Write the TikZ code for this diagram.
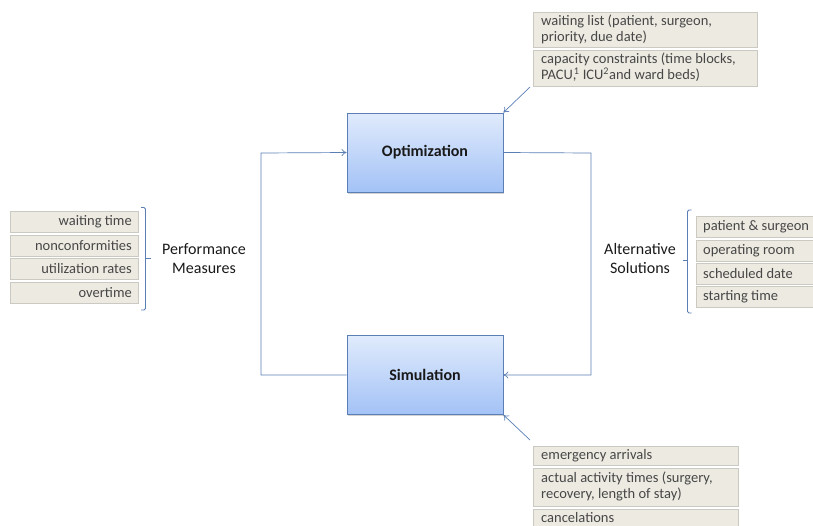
\documentclass[tikz,border=0pt]{standalone}
\usepackage{fontspec}
\setmainfont{Carlito}
\usetikzlibrary{arrows.meta,shadows}
\definecolor{edgeblue}{HTML}{5B7FB5}
\definecolor{boxtop}{HTML}{E0EBFC}
\definecolor{boxbot}{HTML}{A3C2F6}
\definecolor{itemfill}{HTML}{ECEAE1}
\definecolor{itemline}{HTML}{CBCAC2}
\definecolor{itemtext}{HTML}{474747}
\tikzset{
  mainbox/.style={draw=edgeblue, line width=0.8pt, top color=boxtop, bottom color=boxbot,
    minimum width=156pt, minimum height=79pt, font=\fontsize{16}{19}\selectfont\bfseries,
    text=black!90, drop shadow={shadow xshift=1.2pt, shadow yshift=-1.5pt, opacity=0.35}},
  item/.style={draw=itemline, line width=0.6pt, fill=itemfill, inner sep=0pt, anchor=north west},
  itemtxt/.style={font=\fontsize{14.5}{16}\selectfont, text=itemtext, inner sep=0pt},
  flow/.style={draw=edgeblue, line width=0.7pt, -{To[length=5pt,width=7pt]}},
  bracket/.style={draw=edgeblue, line width=0.8pt, rounded corners=1.5pt},
  caption/.style={font=\fontsize{16}{19.5}\selectfont, text=black!90, align=center}
}
\begin{document}
\begin{tikzpicture}[x=1pt,y=-1pt]
\useasboundingbox (0,0) rectangle (813,525);

% central boxes
\node[mainbox] (opt) at (425,152.5) {Optimization};
\node[mainbox] (sim) at (425,375) {Simulation};

% feedback loop
\coordinate (lb) at (261,375);
\coordinate (lt) at (261,153);
\coordinate (rt) at (591,153);
\coordinate (rb) at (591,375);
\draw[flow] (sim.west) -- (lb) -- (lt) -- (opt.west);
\draw[flow] (opt.east) -- (rt) -- (rb) -- (sim.east);

% optimization inputs
\node[item, minimum width=224pt, minimum height=35pt] (w1) at (533,12) {};
\node[itemtxt, anchor=north west, align=left] (w1t) at (541,15)
  {waiting list (patient, surgeon,\\priority, due date)};
\node[item, minimum width=224pt, minimum height=36pt] (w2) at (533,50) {};
\node[itemtxt, anchor=north west, align=left] (w2t) at (541,53)
  {capacity constraints (time blocks,\\PACU,\kern-2.5pt\textsuperscript{1} ICU\textsuperscript{2}and ward beds)};
\coordinate (inopt) at (530,87);
\draw[flow] (inopt) -- (opt.north east);

% simulation inputs
\node[item, minimum width=205pt, minimum height=19pt] (e1) at (533,446) {};
\node[itemtxt, anchor=west] (e1t) at (541,455.5) {emergency arrivals};
\node[item, minimum width=205pt, minimum height=38pt] (e2) at (533,468) {};
\node[itemtxt, anchor=north west, align=left] (e2t) at (541,471.5)
  {actual activity times (surgery,\\recovery, length of stay)};
\node[item, minimum width=205pt, minimum height=19pt] (e3) at (533,509) {};
\node[itemtxt, anchor=west] (e3t) at (541,517.5) {cancelations};
\coordinate (insim) at (530,440);
\draw[flow] (insim) -- (sim.south east);

% performance measures
\foreach \y/\t [count=\i] in {211/waiting time, 235/nonconformities, 258/utilization rates, 282/overtime}{
  \node[item, minimum width=128pt, minimum height=21pt] (p\i) at (10,\y) {};
  \node[itemtxt, anchor=east] (p\i t) at (132,\y+10.5) {\t};
}
\coordinate (pb1) at (141,207.5);
\coordinate (pb2) at (141,310);
\coordinate (pbm) at (145.5,258);
\draw[bracket] (pb1) -- (145.5,207.5) -- (145.5,310) -- (pb2);
\draw[bracket] (pbm) -- ++(5.5,0);
\node[caption] (perf) at (204,258.5) {Performance\\Measures};

% alternative solutions
\foreach \y/\t [count=\i] in {216/patient \& surgeon, 240/operating room, 263/scheduled date, 286/starting time}{
  \node[item, minimum width=118pt, minimum height=21pt] (a\i) at (696,\y) {};
  \node[itemtxt, anchor=west] (a\i t) at (703,\y+10.5) {\t};
}
\coordinate (ab1) at (691.5,210);
\coordinate (ab2) at (691.5,313);
\coordinate (abm) at (687.5,260.5);
\draw[bracket] (ab1) -- (687.5,210) -- (687.5,313) -- (ab2);
\draw[bracket] (abm) -- ++(-5,0);
\node[caption] (alt) at (640,258.5) {Alternative\\Solutions};
\end{tikzpicture}
\end{document}
